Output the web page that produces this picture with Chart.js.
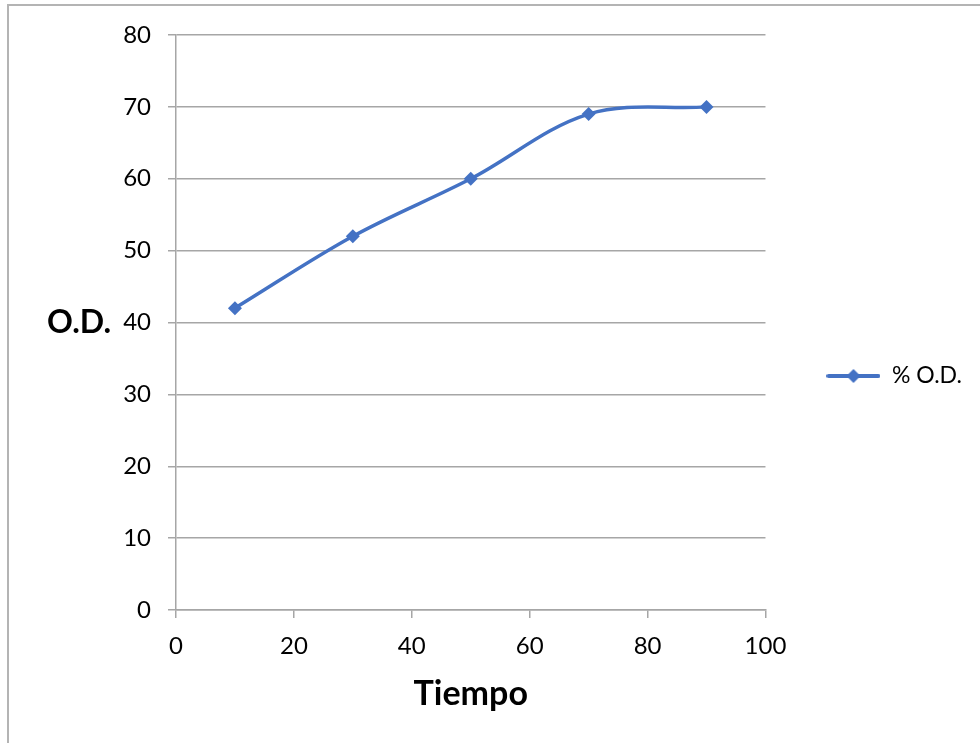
<!DOCTYPE html>
<html>
<head>
  <meta charset="utf-8">
  <title>% O.D. vs Tiempo</title>
  <script src="https://cdn.jsdelivr.net/npm/chart.js@4"></script>
  <style>
    html, body {
      margin: 0; padding: 0;
      background-color: #fff;
    }
    #wrap {
      position: relative;
      width: 980px; height: 743px;
    }
    #frame {
      position: absolute;
      left: 7px; top: 4px; right: -5px; bottom: -5px;
      border-left: 2px solid #b4b4b4;
      border-top: 2px solid #b4b4b4;
      pointer-events: none;
    }
  </style>
</head>
<body>
  <div id="wrap">
    <canvas id="myChart" width="980" height="743"></canvas>
    <div id="frame"></div>
  </div>

  <script>
    // values
    const tiempo = [10, 30, 50, 70, 90];
    const od = [42, 52, 60, 69, 70];
    const seriesName = '% O.D.';
    const xTitle = 'Tiempo';
    const yTitle = 'O.D.';

    const blue = '#4472C4';
    const gridGray = '#a6a6a6';
    const fontFamily = 'Lato, "Open Sans", sans-serif';

    // legend symbol: line with a diamond in the middle
    function legendSymbol() {
      const c = document.createElement('canvas');
      c.width = 54; c.height = 16;
      const g = c.getContext('2d');
      g.strokeStyle = blue;
      g.lineWidth = 4;
      g.lineCap = 'round';
      g.beginPath();
      g.moveTo(2, 8); g.lineTo(52, 8);
      g.stroke();
      g.fillStyle = blue;
      g.beginPath();
      g.moveTo(27, 1); g.lineTo(34, 8); g.lineTo(27, 15); g.lineTo(20, 8);
      g.closePath();
      g.fill();
      return c;
    }

    const yTitlePlugin = {
      id: 'yTitle',
      afterDraw(chart) {
        const { ctx, chartArea } = chart;
        ctx.save();
        ctx.font = 'bold 32px ' + fontFamily;
        ctx.fillStyle = '#000';
        ctx.textAlign = 'center';
        ctx.textBaseline = 'middle';
        ctx.fillText(yTitle, 79, (chartArea.top + chartArea.bottom) / 2);
        ctx.restore();
      }
    };

    const symbol = legendSymbol();

    new Chart(document.getElementById('myChart'), {
      type: 'line',
      data: {
        datasets: [{
          label: seriesName,
          data: tiempo.map((t, i) => ({ x: t, y: od[i] })),
          borderColor: blue,
          backgroundColor: blue,
          borderWidth: 3.5,
          tension: 0.35,
          pointStyle: 'rectRot',
          pointRadius: 7,
          pointHoverRadius: 7,
          pointBorderWidth: 0,
          fill: false
        }]
      },
      options: {
        responsive: false,
        animation: false,
        layout: { padding: { top: 35, bottom: 26, left: 0, right: 8 } },
        scales: {
          x: {
            type: 'linear',
            min: 0, max: 100,
            ticks: { stepSize: 20, color: '#000', padding: 14, font: { family: fontFamily, size: 24 } },
            grid: { drawOnChartArea: false, color: gridGray, tickLength: 8, lineWidth: 1.5 },
            border: { color: gridGray, width: 1.5 },
            title: {
              display: true, text: xTitle, color: '#000',
              font: { family: fontFamily, size: 34, weight: 'bold' },
              padding: { top: 0, bottom: 3 }
            },
            afterFit(scale) { scale.height = 107; }
          },
          y: {
            min: 0, max: 80,
            ticks: { stepSize: 10, color: '#000', padding: 17, font: { family: fontFamily, size: 24 } },
            grid: { color: gridGray, tickLength: 8, lineWidth: 1.5 },
            border: { color: gridGray, width: 1.5 },
            afterFit(scale) { scale.width = 176; }
          }
        },
        plugins: {
          legend: {
            position: 'right',
            labels: {
              usePointStyle: true,
              pointStyleWidth: 54,
              padding: 61,
              color: '#000',
              font: { family: fontFamily, size: 23 },
              generateLabels: (chart) => [{
                text: seriesName,
                pointStyle: symbol,
                fillStyle: blue,
                strokeStyle: blue,
                lineWidth: 0,
                datasetIndex: 0
              }]
            }
          },
          tooltip: { enabled: false }
        }
      },
      plugins: [yTitlePlugin]
    });
  </script>
</body>
</html>
